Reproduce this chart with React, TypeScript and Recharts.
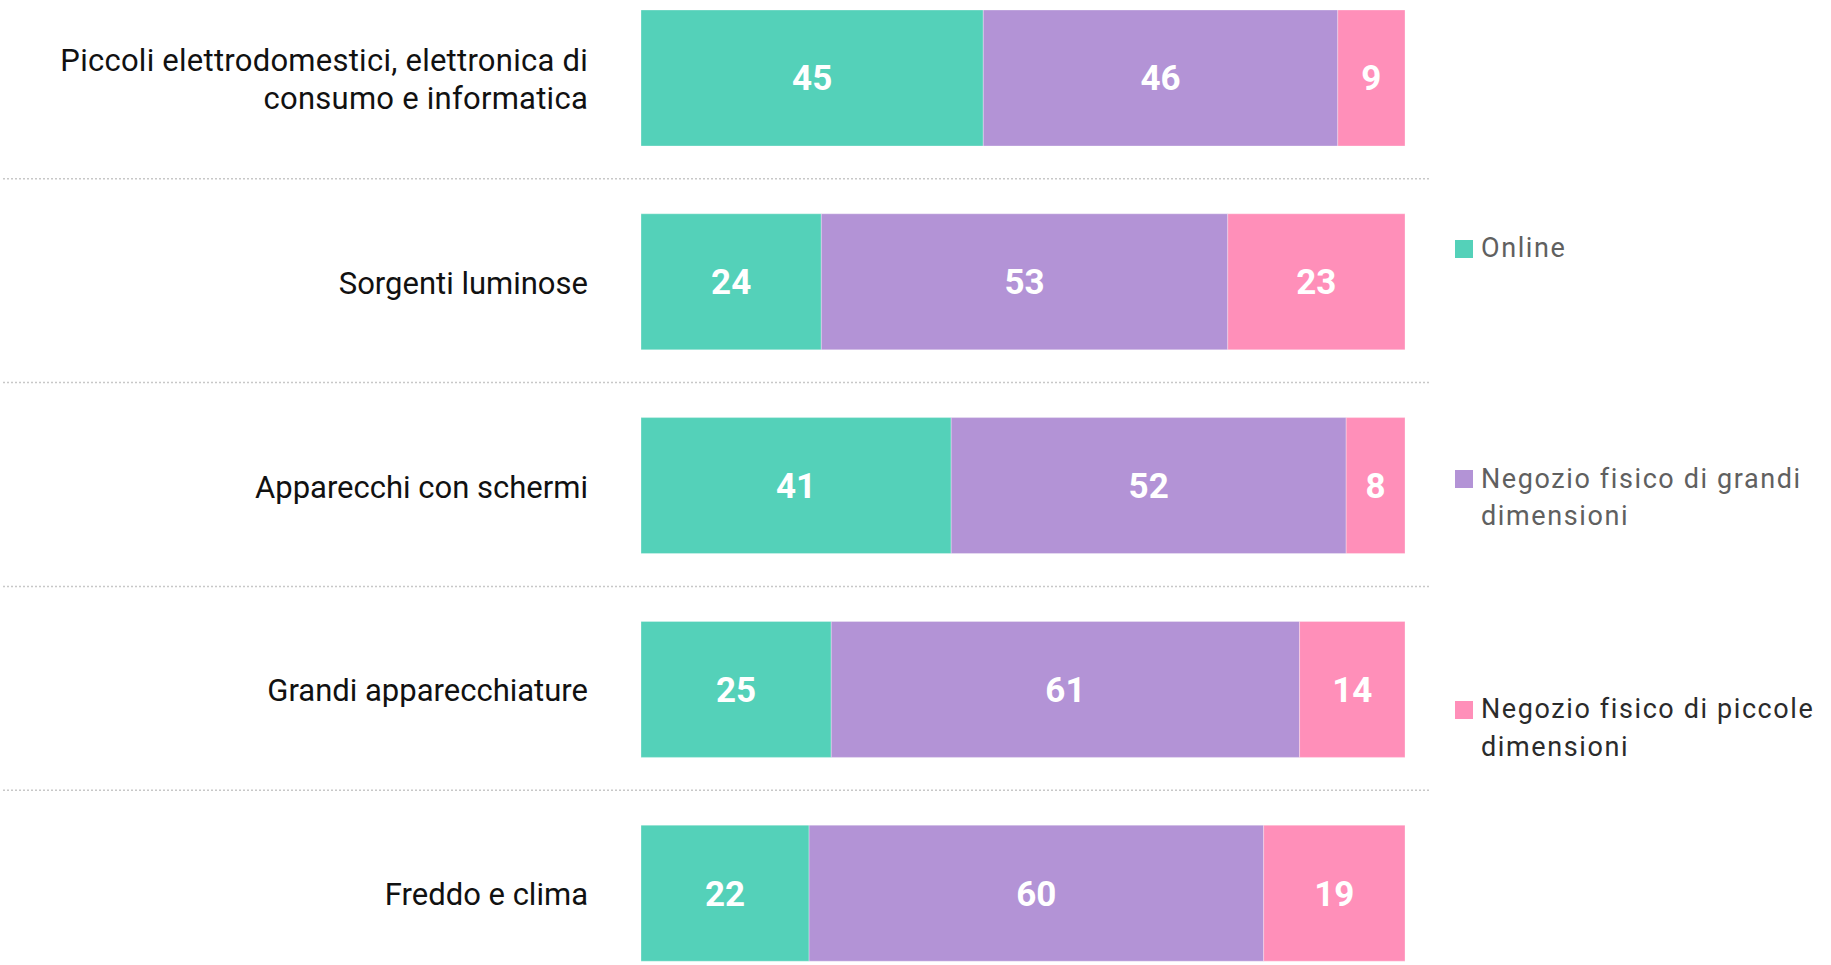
import React from 'react';
import { BarChart, Bar, XAxis, YAxis, LabelList, Legend } from 'recharts';

const categories = [
  'Piccoli elettrodomestici, elettronica di\nconsumo e informatica',
  'Sorgenti luminose',
  'Apparecchi con schermi',
  'Grandi apparecchiature',
  'Freddo e clima',
];
const onlineValues = [44.8, 23.6, 40.6, 24.9, 22.0];
const grandiValues = [46.4, 53.2, 51.7, 61.3, 59.5];
const piccoleValues = [8.8, 23.2, 7.7, 13.8, 18.5];
const seriesKeys = ['online', 'grandi', 'piccole'];
const seriesNames = [
  'Online',
  'Negozio fisico di grandi dimensioni',
  'Negozio fisico di piccole dimensioni',
];
const seriesColors = ['#54D1B9', '#B393D6', '#FF8FB9'];
const legendTextColors = ['#606060', '#606060', '#2b2b2b'];

const data = categories.map((c, i) => ({
  category: c,
  online: onlineValues[i],
  grandi: grandiValues[i],
  piccole: piccoleValues[i],
}));

const CHART_W = 1831;
const CHART_H = 1019;
const STEP = CHART_H / categories.length;

const CategoryTick = (props: any) => {
  const { x, y, payload, index } = props;
  const lines = String(payload.value).split('\n');
  const lh = 38.5;
  const startDy = -((lines.length - 1) * lh) / 2 + 12;
  return (
    <g>
      <text x={x} y={y} textAnchor="end" fontSize={31} fill="#111" fontFamily="Roboto" letterSpacing={lines.length > 1 ? 0.25 : 0}>
        {lines.map((l, i) => (
          <tspan key={i} x={x} dy={i === 0 ? startDy : lh}>
            {l}
          </tspan>
        ))}
      </text>
      {index < categories.length - 1 && (
        <line
          x1={3}
          x2={1430}
          y1={y + STEP / 2 - 1}
          y2={y + STEP / 2 - 1}
          stroke="#c8c8c8"
          strokeWidth={1.5}
          strokeDasharray="2 2"
        />
      )}
    </g>
  );
};

const renderLegend = (props: any) => {
  const payload = [...(props.payload || [])].sort(
    (a: any, b: any) => seriesNames.indexOf(a.value) - seriesNames.indexOf(b.value)
  );
  return (
    <div>
      {payload.map((p: any) => {
        const idx = seriesNames.indexOf(p.value);
        return (
          <div key={p.value} style={{ height: 230.5, display: 'flex', alignItems: 'flex-start' }}>
            <div
              style={{
                width: 18,
                height: 18,
                background: p.color,
                marginTop: (37 - 18) / 2,
                marginRight: 8,
                flex: 'none',
              }}
            />
            <div
              style={{
                fontSize: 27,
                lineHeight: '37.5px',
                color: legendTextColors[idx],
                fontFamily: 'Roboto',
                letterSpacing: 1.6,
                width: 345,
              }}
            >
              {p.value}
            </div>
          </div>
        );
      })}
    </div>
  );
};

export default function App() {
  return (
    <div
      style={{
        position: 'fixed',
        left: 0,
        top: 0,
        width: 1831,
        height: 965,
        overflow: 'hidden',
        background: '#fff',
      }}
    >
      <div style={{ position: 'absolute', left: 0, top: -24 }}>
        <BarChart
          width={CHART_W}
          height={CHART_H}
          data={data}
          layout="vertical"
          margin={{ top: 0, right: 426, bottom: 0, left: 0 }}
        >
          <XAxis type="number" domain={[0, 100]} hide />
          <YAxis
            type="category"
            dataKey="category"
            width={641}
            tickLine={false}
            axisLine={false}
            tickSize={0}
            tickMargin={53}
            interval={0}
            tick={<CategoryTick />}
          />
          <Legend
            layout="vertical"
            align="center"
            verticalAlign="middle"
            wrapperStyle={{ left: 1455, top: 254, width: 376 }}
            content={renderLegend}
          />
          {seriesKeys.map((k, i) => (
            <Bar
              key={k}
              dataKey={k}
              name={seriesNames[i]}
              stackId="a"
              fill={seriesColors[i]}
              barSize={136}
              stroke="#ffffff"
              strokeWidth={0.6}
              strokeOpacity={0.5}
              isAnimationActive={false}
            >
              <LabelList
                dataKey={k}
                position="center"
                fill="#ffffff"
                fontSize={35}
                fontWeight={700}
                fontFamily="Roboto"
                formatter={(v: any) => Math.round(Number(v))}
              />
            </Bar>
          ))}
        </BarChart>
      </div>
    </div>
  );
}
